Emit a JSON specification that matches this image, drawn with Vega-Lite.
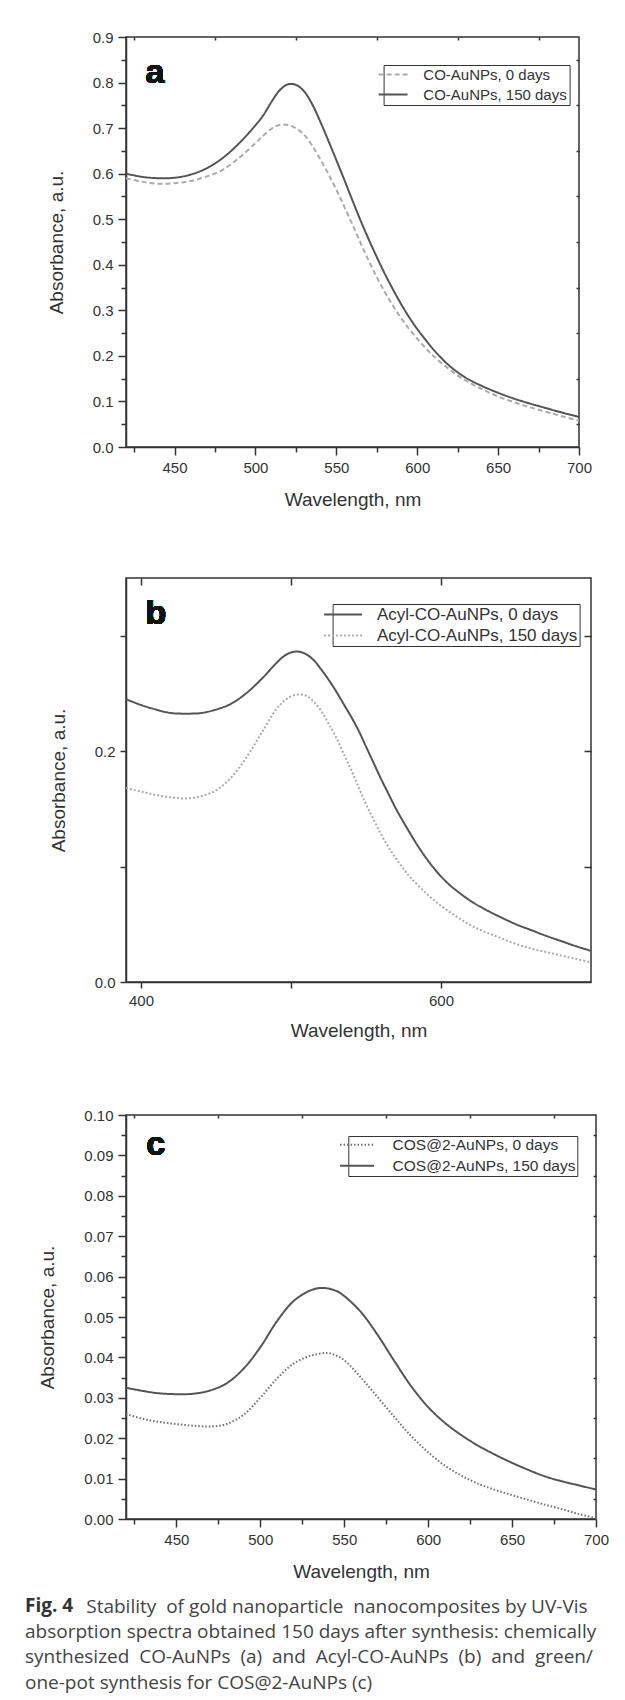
{
  "$schema": "https://vega.github.io/schema/vega-lite/v6.json",
  "background": "white",
  "padding": {"left": 24, "top": 29, "right": 0, "bottom": 0},
  "spacing": 66,
  "title": {
    "text": "Stability\u00a0 of gold nanoparticle\u00a0 nanocomposites by UV-Vis",
    "orient": "bottom", "anchor": "start", "frame": "bounds", "dx": 62, "offset": -96.1, "baseline": "top",
    "font": "Open Sans", "fontSize": 19, "fontWeight": "normal", "color": "#444444"
  },
  "resolve": {"scale": {"color": "independent", "strokeDash": "independent"}, "legend": {"color": "independent", "strokeDash": "independent"}},
  "config": {
    "view": {"stroke": "#333333", "strokeWidth": 1.5},
    "axis": {"grid": false, "domainColor": "#333333", "domainWidth": 1.5, "tickColor": "#333333", "tickWidth": 1.5, "labelColor": "#333333", "labelFont": "Liberation Sans", "labelFontSize": 15, "labelPadding": 5, "titleColor": "#333333", "titleFont": "Liberation Sans", "titleFontSize": 19, "titleFontWeight": "normal", "labelFlush": false, "labelOverlap": false}
  },
  "datasets": {
    "a": [
      {"w": 420, "A": 0.590, "s": "CO-AuNPs, 0 days"}, {"w": 430, "A": 0.582, "s": "CO-AuNPs, 0 days"}, {"w": 440, "A": 0.578, "s": "CO-AuNPs, 0 days"}, {"w": 450, "A": 0.579, "s": "CO-AuNPs, 0 days"}, {"w": 460, "A": 0.584, "s": "CO-AuNPs, 0 days"}, {"w": 470, "A": 0.594, "s": "CO-AuNPs, 0 days"}, {"w": 480, "A": 0.609, "s": "CO-AuNPs, 0 days"}, {"w": 490, "A": 0.635, "s": "CO-AuNPs, 0 days"}, {"w": 500, "A": 0.667, "s": "CO-AuNPs, 0 days"}, {"w": 505, "A": 0.684, "s": "CO-AuNPs, 0 days"}, {"w": 510, "A": 0.699, "s": "CO-AuNPs, 0 days"}, {"w": 515, "A": 0.707, "s": "CO-AuNPs, 0 days"}, {"w": 520, "A": 0.707, "s": "CO-AuNPs, 0 days"}, {"w": 525, "A": 0.700, "s": "CO-AuNPs, 0 days"}, {"w": 530, "A": 0.686, "s": "CO-AuNPs, 0 days"}, {"w": 535, "A": 0.662, "s": "CO-AuNPs, 0 days"}, {"w": 540, "A": 0.632, "s": "CO-AuNPs, 0 days"}, {"w": 545, "A": 0.600, "s": "CO-AuNPs, 0 days"}, {"w": 550, "A": 0.565, "s": "CO-AuNPs, 0 days"}, {"w": 555, "A": 0.527, "s": "CO-AuNPs, 0 days"}, {"w": 560, "A": 0.488, "s": "CO-AuNPs, 0 days"}, {"w": 565, "A": 0.448, "s": "CO-AuNPs, 0 days"}, {"w": 570, "A": 0.409, "s": "CO-AuNPs, 0 days"}, {"w": 575, "A": 0.373, "s": "CO-AuNPs, 0 days"}, {"w": 580, "A": 0.340, "s": "CO-AuNPs, 0 days"}, {"w": 585, "A": 0.310, "s": "CO-AuNPs, 0 days"}, {"w": 590, "A": 0.283, "s": "CO-AuNPs, 0 days"}, {"w": 595, "A": 0.259, "s": "CO-AuNPs, 0 days"}, {"w": 600, "A": 0.238, "s": "CO-AuNPs, 0 days"}, {"w": 605, "A": 0.218, "s": "CO-AuNPs, 0 days"}, {"w": 610, "A": 0.200, "s": "CO-AuNPs, 0 days"}, {"w": 620, "A": 0.170, "s": "CO-AuNPs, 0 days"}, {"w": 630, "A": 0.146, "s": "CO-AuNPs, 0 days"}, {"w": 640, "A": 0.127, "s": "CO-AuNPs, 0 days"}, {"w": 650, "A": 0.111, "s": "CO-AuNPs, 0 days"}, {"w": 660, "A": 0.098, "s": "CO-AuNPs, 0 days"}, {"w": 670, "A": 0.087, "s": "CO-AuNPs, 0 days"}, {"w": 680, "A": 0.077, "s": "CO-AuNPs, 0 days"}, {"w": 690, "A": 0.067, "s": "CO-AuNPs, 0 days"}, {"w": 700, "A": 0.058, "s": "CO-AuNPs, 0 days"},
      {"w": 420, "A": 0.600, "s": "CO-AuNPs, 150 days"}, {"w": 430, "A": 0.593, "s": "CO-AuNPs, 150 days"}, {"w": 440, "A": 0.590, "s": "CO-AuNPs, 150 days"}, {"w": 450, "A": 0.591, "s": "CO-AuNPs, 150 days"}, {"w": 460, "A": 0.598, "s": "CO-AuNPs, 150 days"}, {"w": 470, "A": 0.612, "s": "CO-AuNPs, 150 days"}, {"w": 480, "A": 0.635, "s": "CO-AuNPs, 150 days"}, {"w": 490, "A": 0.667, "s": "CO-AuNPs, 150 days"}, {"w": 500, "A": 0.706, "s": "CO-AuNPs, 150 days"}, {"w": 505, "A": 0.729, "s": "CO-AuNPs, 150 days"}, {"w": 510, "A": 0.758, "s": "CO-AuNPs, 150 days"}, {"w": 515, "A": 0.783, "s": "CO-AuNPs, 150 days"}, {"w": 520, "A": 0.796, "s": "CO-AuNPs, 150 days"}, {"w": 525, "A": 0.795, "s": "CO-AuNPs, 150 days"}, {"w": 530, "A": 0.781, "s": "CO-AuNPs, 150 days"}, {"w": 535, "A": 0.753, "s": "CO-AuNPs, 150 days"}, {"w": 540, "A": 0.715, "s": "CO-AuNPs, 150 days"}, {"w": 545, "A": 0.673, "s": "CO-AuNPs, 150 days"}, {"w": 550, "A": 0.630, "s": "CO-AuNPs, 150 days"}, {"w": 555, "A": 0.586, "s": "CO-AuNPs, 150 days"}, {"w": 560, "A": 0.541, "s": "CO-AuNPs, 150 days"}, {"w": 565, "A": 0.497, "s": "CO-AuNPs, 150 days"}, {"w": 570, "A": 0.456, "s": "CO-AuNPs, 150 days"}, {"w": 575, "A": 0.417, "s": "CO-AuNPs, 150 days"}, {"w": 580, "A": 0.380, "s": "CO-AuNPs, 150 days"}, {"w": 585, "A": 0.346, "s": "CO-AuNPs, 150 days"}, {"w": 590, "A": 0.314, "s": "CO-AuNPs, 150 days"}, {"w": 595, "A": 0.285, "s": "CO-AuNPs, 150 days"}, {"w": 600, "A": 0.259, "s": "CO-AuNPs, 150 days"}, {"w": 605, "A": 0.236, "s": "CO-AuNPs, 150 days"}, {"w": 610, "A": 0.214, "s": "CO-AuNPs, 150 days"}, {"w": 615, "A": 0.195, "s": "CO-AuNPs, 150 days"}, {"w": 620, "A": 0.178, "s": "CO-AuNPs, 150 days"}, {"w": 630, "A": 0.152, "s": "CO-AuNPs, 150 days"}, {"w": 640, "A": 0.134, "s": "CO-AuNPs, 150 days"}, {"w": 650, "A": 0.119, "s": "CO-AuNPs, 150 days"}, {"w": 660, "A": 0.106, "s": "CO-AuNPs, 150 days"}, {"w": 670, "A": 0.095, "s": "CO-AuNPs, 150 days"}, {"w": 680, "A": 0.085, "s": "CO-AuNPs, 150 days"}, {"w": 690, "A": 0.075, "s": "CO-AuNPs, 150 days"}, {"w": 700, "A": 0.066, "s": "CO-AuNPs, 150 days"}
    ],
    "b": [
      {"w": 390, "A": 0.245, "s": "Acyl-CO-AuNPs, 0 days"}, {"w": 400, "A": 0.240, "s": "Acyl-CO-AuNPs, 0 days"}, {"w": 410, "A": 0.236, "s": "Acyl-CO-AuNPs, 0 days"}, {"w": 420, "A": 0.233, "s": "Acyl-CO-AuNPs, 0 days"}, {"w": 430, "A": 0.2325, "s": "Acyl-CO-AuNPs, 0 days"}, {"w": 440, "A": 0.233, "s": "Acyl-CO-AuNPs, 0 days"}, {"w": 450, "A": 0.236, "s": "Acyl-CO-AuNPs, 0 days"}, {"w": 460, "A": 0.241, "s": "Acyl-CO-AuNPs, 0 days"}, {"w": 470, "A": 0.250, "s": "Acyl-CO-AuNPs, 0 days"}, {"w": 480, "A": 0.262, "s": "Acyl-CO-AuNPs, 0 days"}, {"w": 490, "A": 0.276, "s": "Acyl-CO-AuNPs, 0 days"}, {"w": 495, "A": 0.282, "s": "Acyl-CO-AuNPs, 0 days"}, {"w": 500, "A": 0.2855, "s": "Acyl-CO-AuNPs, 0 days"}, {"w": 505, "A": 0.2862, "s": "Acyl-CO-AuNPs, 0 days"}, {"w": 510, "A": 0.284, "s": "Acyl-CO-AuNPs, 0 days"}, {"w": 515, "A": 0.279, "s": "Acyl-CO-AuNPs, 0 days"}, {"w": 520, "A": 0.271, "s": "Acyl-CO-AuNPs, 0 days"}, {"w": 525, "A": 0.262, "s": "Acyl-CO-AuNPs, 0 days"}, {"w": 530, "A": 0.252, "s": "Acyl-CO-AuNPs, 0 days"}, {"w": 535, "A": 0.241, "s": "Acyl-CO-AuNPs, 0 days"}, {"w": 540, "A": 0.230, "s": "Acyl-CO-AuNPs, 0 days"}, {"w": 545, "A": 0.218, "s": "Acyl-CO-AuNPs, 0 days"}, {"w": 550, "A": 0.204, "s": "Acyl-CO-AuNPs, 0 days"}, {"w": 555, "A": 0.190, "s": "Acyl-CO-AuNPs, 0 days"}, {"w": 560, "A": 0.176, "s": "Acyl-CO-AuNPs, 0 days"}, {"w": 565, "A": 0.163, "s": "Acyl-CO-AuNPs, 0 days"}, {"w": 570, "A": 0.150, "s": "Acyl-CO-AuNPs, 0 days"}, {"w": 575, "A": 0.1385, "s": "Acyl-CO-AuNPs, 0 days"}, {"w": 580, "A": 0.1275, "s": "Acyl-CO-AuNPs, 0 days"}, {"w": 585, "A": 0.117, "s": "Acyl-CO-AuNPs, 0 days"}, {"w": 590, "A": 0.1075, "s": "Acyl-CO-AuNPs, 0 days"}, {"w": 595, "A": 0.099, "s": "Acyl-CO-AuNPs, 0 days"}, {"w": 600, "A": 0.0915, "s": "Acyl-CO-AuNPs, 0 days"}, {"w": 605, "A": 0.085, "s": "Acyl-CO-AuNPs, 0 days"}, {"w": 610, "A": 0.0795, "s": "Acyl-CO-AuNPs, 0 days"}, {"w": 620, "A": 0.070, "s": "Acyl-CO-AuNPs, 0 days"}, {"w": 630, "A": 0.0625, "s": "Acyl-CO-AuNPs, 0 days"}, {"w": 640, "A": 0.056, "s": "Acyl-CO-AuNPs, 0 days"}, {"w": 650, "A": 0.050, "s": "Acyl-CO-AuNPs, 0 days"}, {"w": 660, "A": 0.045, "s": "Acyl-CO-AuNPs, 0 days"}, {"w": 670, "A": 0.040, "s": "Acyl-CO-AuNPs, 0 days"}, {"w": 680, "A": 0.0355, "s": "Acyl-CO-AuNPs, 0 days"}, {"w": 690, "A": 0.031, "s": "Acyl-CO-AuNPs, 0 days"}, {"w": 700, "A": 0.027, "s": "Acyl-CO-AuNPs, 0 days"},
      {"w": 390, "A": 0.168, "s": "Acyl-CO-AuNPs, 150 days"}, {"w": 400, "A": 0.165, "s": "Acyl-CO-AuNPs, 150 days"}, {"w": 410, "A": 0.162, "s": "Acyl-CO-AuNPs, 150 days"}, {"w": 420, "A": 0.160, "s": "Acyl-CO-AuNPs, 150 days"}, {"w": 430, "A": 0.159, "s": "Acyl-CO-AuNPs, 150 days"}, {"w": 440, "A": 0.161, "s": "Acyl-CO-AuNPs, 150 days"}, {"w": 450, "A": 0.166, "s": "Acyl-CO-AuNPs, 150 days"}, {"w": 460, "A": 0.177, "s": "Acyl-CO-AuNPs, 150 days"}, {"w": 470, "A": 0.194, "s": "Acyl-CO-AuNPs, 150 days"}, {"w": 480, "A": 0.215, "s": "Acyl-CO-AuNPs, 150 days"}, {"w": 490, "A": 0.236, "s": "Acyl-CO-AuNPs, 150 days"}, {"w": 495, "A": 0.243, "s": "Acyl-CO-AuNPs, 150 days"}, {"w": 500, "A": 0.2475, "s": "Acyl-CO-AuNPs, 150 days"}, {"w": 505, "A": 0.249, "s": "Acyl-CO-AuNPs, 150 days"}, {"w": 510, "A": 0.248, "s": "Acyl-CO-AuNPs, 150 days"}, {"w": 515, "A": 0.243, "s": "Acyl-CO-AuNPs, 150 days"}, {"w": 520, "A": 0.235, "s": "Acyl-CO-AuNPs, 150 days"}, {"w": 525, "A": 0.224, "s": "Acyl-CO-AuNPs, 150 days"}, {"w": 530, "A": 0.212, "s": "Acyl-CO-AuNPs, 150 days"}, {"w": 535, "A": 0.198, "s": "Acyl-CO-AuNPs, 150 days"}, {"w": 540, "A": 0.184, "s": "Acyl-CO-AuNPs, 150 days"}, {"w": 545, "A": 0.169, "s": "Acyl-CO-AuNPs, 150 days"}, {"w": 550, "A": 0.154, "s": "Acyl-CO-AuNPs, 150 days"}, {"w": 555, "A": 0.141, "s": "Acyl-CO-AuNPs, 150 days"}, {"w": 560, "A": 0.128, "s": "Acyl-CO-AuNPs, 150 days"}, {"w": 565, "A": 0.117, "s": "Acyl-CO-AuNPs, 150 days"}, {"w": 570, "A": 0.107, "s": "Acyl-CO-AuNPs, 150 days"}, {"w": 575, "A": 0.098, "s": "Acyl-CO-AuNPs, 150 days"}, {"w": 580, "A": 0.090, "s": "Acyl-CO-AuNPs, 150 days"}, {"w": 590, "A": 0.077, "s": "Acyl-CO-AuNPs, 150 days"}, {"w": 600, "A": 0.066, "s": "Acyl-CO-AuNPs, 150 days"}, {"w": 610, "A": 0.057, "s": "Acyl-CO-AuNPs, 150 days"}, {"w": 620, "A": 0.049, "s": "Acyl-CO-AuNPs, 150 days"}, {"w": 630, "A": 0.043, "s": "Acyl-CO-AuNPs, 150 days"}, {"w": 640, "A": 0.038, "s": "Acyl-CO-AuNPs, 150 days"}, {"w": 650, "A": 0.033, "s": "Acyl-CO-AuNPs, 150 days"}, {"w": 660, "A": 0.029, "s": "Acyl-CO-AuNPs, 150 days"}, {"w": 670, "A": 0.026, "s": "Acyl-CO-AuNPs, 150 days"}, {"w": 680, "A": 0.023, "s": "Acyl-CO-AuNPs, 150 days"}, {"w": 690, "A": 0.020, "s": "Acyl-CO-AuNPs, 150 days"}, {"w": 700, "A": 0.017, "s": "Acyl-CO-AuNPs, 150 days"}
    ],
    "c": [
      {"w": 420, "A": 0.0260, "s": "COS@2-AuNPs, 0 days"}, {"w": 430, "A": 0.0248, "s": "COS@2-AuNPs, 0 days"}, {"w": 440, "A": 0.0240, "s": "COS@2-AuNPs, 0 days"}, {"w": 450, "A": 0.0235, "s": "COS@2-AuNPs, 0 days"}, {"w": 460, "A": 0.0231, "s": "COS@2-AuNPs, 0 days"}, {"w": 470, "A": 0.0229, "s": "COS@2-AuNPs, 0 days"}, {"w": 480, "A": 0.0235, "s": "COS@2-AuNPs, 0 days"}, {"w": 490, "A": 0.0258, "s": "COS@2-AuNPs, 0 days"}, {"w": 500, "A": 0.0300, "s": "COS@2-AuNPs, 0 days"}, {"w": 510, "A": 0.0348, "s": "COS@2-AuNPs, 0 days"}, {"w": 520, "A": 0.0385, "s": "COS@2-AuNPs, 0 days"}, {"w": 530, "A": 0.0404, "s": "COS@2-AuNPs, 0 days"}, {"w": 540, "A": 0.0411, "s": "COS@2-AuNPs, 0 days"}, {"w": 545, "A": 0.0405, "s": "COS@2-AuNPs, 0 days"}, {"w": 550, "A": 0.0393, "s": "COS@2-AuNPs, 0 days"}, {"w": 560, "A": 0.0350, "s": "COS@2-AuNPs, 0 days"}, {"w": 570, "A": 0.0301, "s": "COS@2-AuNPs, 0 days"}, {"w": 580, "A": 0.0252, "s": "COS@2-AuNPs, 0 days"}, {"w": 590, "A": 0.0205, "s": "COS@2-AuNPs, 0 days"}, {"w": 600, "A": 0.0165, "s": "COS@2-AuNPs, 0 days"}, {"w": 610, "A": 0.0132, "s": "COS@2-AuNPs, 0 days"}, {"w": 620, "A": 0.0107, "s": "COS@2-AuNPs, 0 days"}, {"w": 630, "A": 0.0087, "s": "COS@2-AuNPs, 0 days"}, {"w": 640, "A": 0.0072, "s": "COS@2-AuNPs, 0 days"}, {"w": 650, "A": 0.0059, "s": "COS@2-AuNPs, 0 days"}, {"w": 660, "A": 0.0047, "s": "COS@2-AuNPs, 0 days"}, {"w": 670, "A": 0.0035, "s": "COS@2-AuNPs, 0 days"}, {"w": 680, "A": 0.0024, "s": "COS@2-AuNPs, 0 days"}, {"w": 690, "A": 0.0012, "s": "COS@2-AuNPs, 0 days"}, {"w": 700, "A": 0.0002, "s": "COS@2-AuNPs, 0 days"},
      {"w": 420, "A": 0.0325, "s": "COS@2-AuNPs, 150 days"}, {"w": 430, "A": 0.0317, "s": "COS@2-AuNPs, 150 days"}, {"w": 440, "A": 0.0311, "s": "COS@2-AuNPs, 150 days"}, {"w": 450, "A": 0.0309, "s": "COS@2-AuNPs, 150 days"}, {"w": 460, "A": 0.0310, "s": "COS@2-AuNPs, 150 days"}, {"w": 470, "A": 0.0318, "s": "COS@2-AuNPs, 150 days"}, {"w": 480, "A": 0.0336, "s": "COS@2-AuNPs, 150 days"}, {"w": 490, "A": 0.0372, "s": "COS@2-AuNPs, 150 days"}, {"w": 500, "A": 0.0425, "s": "COS@2-AuNPs, 150 days"}, {"w": 510, "A": 0.0490, "s": "COS@2-AuNPs, 150 days"}, {"w": 520, "A": 0.0540, "s": "COS@2-AuNPs, 150 days"}, {"w": 530, "A": 0.0566, "s": "COS@2-AuNPs, 150 days"}, {"w": 537, "A": 0.0572, "s": "COS@2-AuNPs, 150 days"}, {"w": 545, "A": 0.0565, "s": "COS@2-AuNPs, 150 days"}, {"w": 550, "A": 0.0552, "s": "COS@2-AuNPs, 150 days"}, {"w": 560, "A": 0.0512, "s": "COS@2-AuNPs, 150 days"}, {"w": 570, "A": 0.0455, "s": "COS@2-AuNPs, 150 days"}, {"w": 580, "A": 0.0390, "s": "COS@2-AuNPs, 150 days"}, {"w": 590, "A": 0.0328, "s": "COS@2-AuNPs, 150 days"}, {"w": 600, "A": 0.0277, "s": "COS@2-AuNPs, 150 days"}, {"w": 610, "A": 0.0238, "s": "COS@2-AuNPs, 150 days"}, {"w": 620, "A": 0.0207, "s": "COS@2-AuNPs, 150 days"}, {"w": 630, "A": 0.0181, "s": "COS@2-AuNPs, 150 days"}, {"w": 640, "A": 0.0159, "s": "COS@2-AuNPs, 150 days"}, {"w": 650, "A": 0.0139, "s": "COS@2-AuNPs, 150 days"}, {"w": 660, "A": 0.0121, "s": "COS@2-AuNPs, 150 days"}, {"w": 670, "A": 0.0105, "s": "COS@2-AuNPs, 150 days"}, {"w": 680, "A": 0.0093, "s": "COS@2-AuNPs, 150 days"}, {"w": 690, "A": 0.0083, "s": "COS@2-AuNPs, 150 days"}, {"w": 700, "A": 0.0073, "s": "COS@2-AuNPs, 150 days"}
    ]
  },
  "vconcat": [
    {
      "width": 453,
      "height": 410,
      "data": {"name": "a"},
      "layer": [
        {
          "mark": {"type": "line", "strokeWidth": 2, "interpolate": "catmull-rom"},
          "encoding": {
            "x": {"field": "w", "type": "quantitative", "scale": {"domain": [420, 700], "nice": false, "zero": false},
              "axis": {"title": "Wavelength, nm", "values": [425, 450, 475, 500, 525, 550, 575, 600, 625, 650, 675, 700], "format": "d", "labelExpr": "datum.value % 50 === 0 ? datum.label : ''", "tickSize": {"condition": {"test": "datum.value % 50 === 0", "value": 8}, "value": 5}, "titlePadding": 15}},
            "y": {"field": "A", "type": "quantitative", "scale": {"domain": [0, 0.9], "nice": false},
              "axis": {"title": "Absorbance, a.u.", "values": [0, 0.05, 0.1, 0.15, 0.2, 0.25, 0.3, 0.35, 0.4, 0.45, 0.5, 0.55, 0.6, 0.65, 0.7, 0.75, 0.8, 0.85, 0.9], "format": ".1f", "labelExpr": "abs(datum.value * 10 - round(datum.value * 10)) < 0.001 ? datum.label : ''", "tickSize": {"condition": {"test": "abs(datum.value * 10 - round(datum.value * 10)) < 0.001", "value": 8}, "value": 5}, "titlePadding": 26}},
            "color": {"field": "s", "type": "nominal", "scale": {"domain": ["CO-AuNPs, 0 days", "CO-AuNPs, 150 days"], "range": ["#ababab", "#555555"]},
              "legend": {"title": null, "orient": "none", "legendX": 257.6, "legendY": 28, "symbolType": "M-4.65,0L-4.65,0M-3,0H3", "symbolSize": 93, "symbolStrokeWidth": 2, "symbolOffset": 0, "labelOffset": 22.7, "labelFont": "Liberation Sans", "labelFontSize": 15, "labelColor": "#333333", "strokeColor": "#333333", "padding": 2, "rowPadding": 4, "labelLimit": 400}},
            "strokeDash": {"field": "s", "type": "nominal", "scale": {"domain": ["CO-AuNPs, 0 days", "CO-AuNPs, 150 days"], "range": [[5, 3], [1, 0]]}}
          }
        },
        {
          "mark": {"type": "point", "opacity": 0},
          "encoding": {
            "x": {"field": "w", "type": "quantitative", "axis": {"orient": "top", "title": null, "labels": false, "domain": false, "values": [425, 475, 525, 575, 625, 675], "tickSize": -3}},
            "y": {"field": "A", "type": "quantitative", "axis": {"orient": "right", "title": null, "labels": false, "domain": false, "values": [0.05, 0.15, 0.25, 0.35, 0.45, 0.55, 0.65, 0.75, 0.85], "tickSize": -3}}
          }
        },
        {
          "mark": {"type": "text", "text": "a", "font": "Liberation Sans", "fontSize": 34, "fontWeight": "bold", "align": "left", "baseline": "alphabetic", "color": "#111111"},
          "encoding": {
            "x": {"datum": 432, "type": "quantitative", "axis": null},
            "y": {"datum": 0.8, "type": "quantitative", "axis": null}
          }
        }
      ],
      "resolve": {"axis": {"x": "independent", "y": "independent"}}
    },
    {
      "width": 465,
      "height": 404,
      "data": {"name": "b"},
      "layer": [
        {
          "mark": {"type": "line", "strokeWidth": 2, "interpolate": "catmull-rom"},
          "encoding": {
            "x": {"field": "w", "type": "quantitative", "scale": {"domain": [390, 700], "nice": false, "zero": false},
              "axis": {"title": "Wavelength, nm", "values": [400, 500, 600], "format": "d", "labelExpr": "datum.value === 500 ? '' : datum.label", "tickSize": 6, "titlePadding": 13}},
            "y": {"field": "A", "type": "quantitative", "scale": {"domain": [0, 0.35], "nice": false},
              "axis": {"title": "Absorbance, a.u.", "values": [0, 0.1, 0.2, 0.3], "format": ".1f", "labelExpr": "abs(datum.value - 0.1) < 0.001 || abs(datum.value - 0.3) < 0.001 ? '' : datum.label", "tickSize": 6, "titlePadding": 26}},
            "color": {"field": "s", "type": "nominal", "scale": {"domain": ["Acyl-CO-AuNPs, 0 days", "Acyl-CO-AuNPs, 150 days"], "range": ["#555555", "#ababab"]},
              "legend": {"title": null, "orient": "none", "legendX": 206.6, "legendY": 26, "symbolType": "M-4.58,0L-4.58,0M-3,0H3", "symbolSize": 160, "symbolStrokeWidth": 2, "symbolOffset": 0, "labelOffset": 25.3, "labelFont": "Liberation Sans", "labelFontSize": 17, "labelColor": "#333333", "strokeColor": "#333333", "padding": 2, "rowPadding": 3, "labelLimit": 400}},
            "strokeDash": {"field": "s", "type": "nominal", "scale": {"domain": ["Acyl-CO-AuNPs, 0 days", "Acyl-CO-AuNPs, 150 days"], "range": [[1, 0], [2, 2]]}}
          }
        },
        {
          "mark": {"type": "point", "opacity": 0},
          "encoding": {
            "x": {"field": "w", "type": "quantitative", "axis": {"orient": "top", "title": null, "labels": false, "domain": false, "values": [400, 500, 600], "tickSize": -7}},
            "y": {"field": "A", "type": "quantitative", "axis": {"orient": "right", "title": null, "labels": false, "domain": false, "values": [0.1, 0.2, 0.3], "tickSize": -7}}
          }
        },
        {
          "mark": {"type": "text", "text": "b", "font": "Liberation Sans", "fontSize": 34, "fontWeight": "bold", "align": "left", "baseline": "alphabetic", "color": "#111111"},
          "encoding": {
            "x": {"datum": 403, "type": "quantitative", "axis": null},
            "y": {"datum": 0.31, "type": "quantitative", "axis": null}
          }
        }
      ],
      "resolve": {"axis": {"x": "independent", "y": "independent"}}
    },
    {
      "width": 470,
      "height": 404,
      "data": {"name": "c"},
      "title": {
        "text": "Fig. 4",
        "subtitle": ["absorption spectra obtained 150 days after synthesis: chemically", "synthesized\u00a0 CO-AuNPs\u00a0 (a)\u00a0 and\u00a0 Acyl-CO-AuNPs\u00a0 (b)\u00a0 and\u00a0 green/", "one-pot synthesis for COS@2-AuNPs (c)"],
        "orient": "bottom", "anchor": "start", "frame": "group", "dx": -101, "offset": 16, "baseline": "top",
        "font": "Open Sans", "fontSize": 19, "fontWeight": "bold", "color": "#333333",
        "subtitleFont": "Open Sans", "subtitleFontSize": 19, "subtitleColor": "#444444", "subtitleLineHeight": 25.7, "subtitlePadding": 6.7
      },
      "layer": [
        {
          "mark": {"type": "line", "strokeWidth": 2, "interpolate": "catmull-rom"},
          "encoding": {
            "x": {"field": "w", "type": "quantitative", "scale": {"domain": [420, 700], "nice": false, "zero": false},
              "axis": {"title": "Wavelength, nm", "values": [425, 450, 475, 500, 525, 550, 575, 600, 625, 650, 675, 700], "format": "d", "labelExpr": "datum.value % 50 === 0 ? datum.label : ''", "tickSize": {"condition": {"test": "datum.value % 50 === 0", "value": 8}, "value": 5}, "titlePadding": 15}},
            "y": {"field": "A", "type": "quantitative", "scale": {"domain": [0, 0.1], "nice": false},
              "axis": {"title": "Absorbance, a.u.", "values": [0, 0.005, 0.01, 0.015, 0.02, 0.025, 0.03, 0.035, 0.04, 0.045, 0.05, 0.055, 0.06, 0.065, 0.07, 0.075, 0.08, 0.085, 0.09, 0.095, 0.1], "format": ".2f", "labelExpr": "abs(datum.value * 100 - round(datum.value * 100)) < 0.001 ? datum.label : ''", "tickSize": {"condition": {"test": "abs(datum.value * 100 - round(datum.value * 100)) < 0.001", "value": 8}, "value": 5}, "titlePadding": 26}},
            "color": {"field": "s", "type": "nominal", "scale": {"domain": ["COS@2-AuNPs, 0 days", "COS@2-AuNPs, 150 days"], "range": ["#707070", "#555555"]},
              "legend": {"title": null, "orient": "none", "legendX": 222.3, "legendY": 21, "symbolType": "M-5.49,0L-5.49,0M-3,0H3", "symbolSize": 128, "symbolStrokeWidth": 2, "symbolOffset": 0, "labelOffset": 27.8, "labelFont": "Liberation Sans", "labelFontSize": 15.5, "labelColor": "#333333", "strokeColor": "#333333", "padding": 1, "rowPadding": 4, "labelLimit": 400}},
            "strokeDash": {"field": "s", "type": "nominal", "scale": {"domain": ["COS@2-AuNPs, 0 days", "COS@2-AuNPs, 150 days"], "range": [[1.5, 2], [1, 0]]}}
          }
        },
        {
          "mark": {"type": "point", "opacity": 0},
          "encoding": {
            "x": {"field": "w", "type": "quantitative", "axis": {"orient": "top", "title": null, "labels": false, "domain": false, "values": [425, 475, 525, 575, 625, 675], "tickSize": -3}},
            "y": {"field": "A", "type": "quantitative", "axis": {"orient": "right", "title": null, "labels": false, "domain": false, "values": [0.005, 0.015, 0.025, 0.035, 0.045, 0.055, 0.065, 0.075, 0.085, 0.095], "tickSize": -3}}
          }
        },
        {
          "mark": {"type": "text", "text": "c", "font": "Liberation Sans", "fontSize": 34, "fontWeight": "bold", "align": "left", "baseline": "alphabetic", "color": "#111111"},
          "encoding": {
            "x": {"datum": 432, "type": "quantitative", "axis": null},
            "y": {"datum": 0.09, "type": "quantitative", "axis": null}
          }
        }
      ],
      "resolve": {"axis": {"x": "independent", "y": "independent"}}
    }
  ]
}
